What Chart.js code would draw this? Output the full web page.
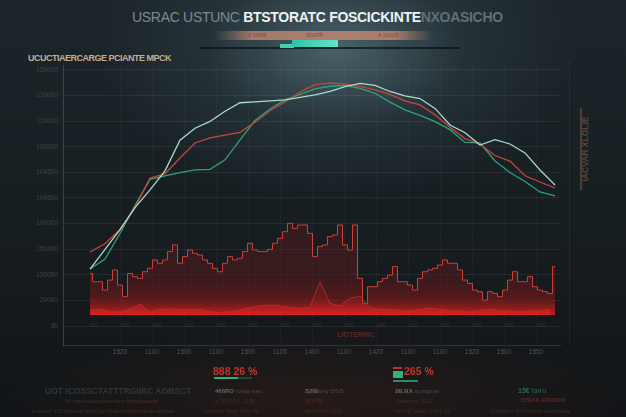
<!DOCTYPE html>
<html><head><meta charset="utf-8">
<script src="https://cdn.jsdelivr.net/npm/chart.js@4"></script>
<style>
html,body{margin:0;padding:0;width:626px;height:417px;overflow:hidden;}
body{position:relative;font-family:"Liberation Sans","DejaVu Sans",Arial,sans-serif;
background:
 radial-gradient(ellipse 240px 150px at 335px 50px, rgba(110,148,158,0.55), rgba(62,88,98,0.26) 55%, rgba(0,0,0,0) 100%),
 radial-gradient(ellipse 320px 70px at 320px 400px, rgba(80,38,28,0.32), rgba(0,0,0,0) 100%),
 linear-gradient(180deg,#1c2529 0%,#182024 40%,#15191c 75%,#111416 100%);}
.a{position:absolute;white-space:nowrap;}
#wrap{position:absolute;left:0;top:0;width:626px;height:417px;}
</style></head><body>
<div class="a" style="left:132px;top:9px;font-size:14px;font-weight:bold;letter-spacing:-0.3px;">
<span style="color:#7b8b92;font-weight:normal">USRAC USTUNC </span><span style="color:#eef3f4">BTSTORATC FOSCICKINTE</span><span style="color:#5f7077">NXOASICHO</span></div>
<div class="a" style="left:215px;top:31px;width:218px;height:9px;background:linear-gradient(90deg,rgba(200,130,110,0),rgba(205,140,118,0.75) 18%,rgba(205,140,118,0.75) 82%,rgba(200,130,110,0));"></div>
<div class="a" style="left:248px;top:32px;font-size:5px;color:#7a4a3a">A 18099</div>
<div class="a" style="left:306px;top:32px;font-size:5px;color:#7a4a3a">SOATP</div>
<div class="a" style="left:378px;top:32px;font-size:5px;color:#7a4a3a">A 16UUS</div>
<div class="a" style="left:200px;top:47px;width:260px;height:1.5px;background:rgba(10,14,16,0.7)"></div>
<div class="a" style="left:280px;top:44px;width:14px;height:3.5px;background:#3fd2b2"></div>
<div class="a" style="left:292px;top:40px;width:46px;height:7px;background:linear-gradient(90deg,#2fc4a4,#62e4c8)"></div>
<div class="a" style="left:28px;top:53px;font-size:9px;font-weight:bold;color:#c2ae95;letter-spacing:-0.5px">UCUCTIAERCARGE PCIANTE MPCK</div>
<div class="a" style="left:569px;top:60px;width:1px;height:285px;background:rgba(255,255,255,0.06)"></div>
<div class="a" style="left:580px;top:108px;width:1.5px;height:82px;background:rgba(90,70,60,0.8)"></div>
<div class="a" style="left:585px;top:149px;font-size:8.5px;font-weight:bold;color:#5e4238;transform:translate(-50%,-50%) rotate(-90deg);">IACVAR XLOLIE</div>
<div class="a" style="left:337px;top:331px;font-size:7px;font-weight:bold;color:#5e2822">LIOTERNIC</div>
<div id="wrap"><canvas id="c"></canvas></div>
<div class="a" style="left:213px;top:365px;font-size:10.5px;font-weight:bold;color:#bf352c">888 26 %</div>
<div class="a" style="left:214px;top:377px;width:38px;height:2px;background:#1c4a3c"></div>
<div class="a" style="left:214px;top:377px;width:24px;height:2px;background:#2bb07f"></div>
<div class="a" style="left:393px;top:367px;width:9px;height:2px;background:#b8332b"></div>
<div class="a" style="left:393px;top:371px;width:10px;height:7px;background:#34b07a"></div>
<div class="a" style="left:404px;top:365px;font-size:10.5px;font-weight:bold;color:#bf352c">265 %</div>
<div class="a" style="left:393px;top:380px;width:25px;height:1.5px;background:#2a8a66"></div>
<div class="a" style="left:45px;top:386px;font-size:8.5px;font-weight:bold;color:#2e383c">UOT ICOSSCTATTTRGIIRC AOBSCT</div>
<div class="a" style="left:215px;top:388px;font-size:6px;color:#4a4a48"><b style="color:#6a6664">466RO</b> /ctrap eec</div>
<div class="a" style="left:305px;top:388px;font-size:6px;color:#4a4a48"><b style="color:#6a6664">S2IB</b>arry 5/5/5</div>
<div class="a" style="left:395px;top:388px;font-size:6px;color:#4a4a48"><b style="color:#6a6664">2B.BX</b> acrognoe</div>
<div class="a" style="left:518px;top:387px;font-size:7px;color:#2a6a4e"><b>15€</b> tarru</div>
<div class="a" style="left:65px;top:398px;font-size:5.5px;color:#4a2c26">Ior there eecoopnenvarg fronpfacaara*</div>
<div class="a" style="left:215px;top:398px;font-size:5.5px;color:#4a2c26">a 3007 06: 2296</div>
<div class="a" style="left:305px;top:398px;font-size:5.5px;color:#4a2c26">303 IBI</div>
<div class="a" style="left:395px;top:398px;font-size:5.5px;color:#4a2c26">cocitenrpr 2423</div>
<div class="a" style="left:521px;top:397px;font-size:6px;font-weight:bold;color:#5a2c26">OSIAK ERIOOD</div>
<div class="a" style="left:32px;top:408px;font-size:5.5px;color:#3e2e28">Leatrem 100 Dreneoi frenCtre dcabesrulsCoraeoe aonoea</div>
<div class="a" style="left:205px;top:408px;font-size:5.5px;color:#3e2e28">Inentoy: 6ees .Ree 80</div>
<div class="a" style="left:305px;top:408px;font-size:5.5px;color:#3e2e28">asd dtutrr / Ir/b</div>
<div class="a" style="left:395px;top:408px;font-size:5.5px;color:#3e2e28">Hed @ laaee 1 426 16</div>
<div class="a" style="left:490px;top:408px;font-size:5.5px;color:#3e2e28">Cossgtert oDsOstaon aoDsrseas</div>
<script>
// ---- data ----
const xTickLabels = ['1520','1100','1500','1100','1500','1105','1400','1100','1420','1100','1100','1520','1500','1550'];
const innerTickLabels = ['130','130','140','110','150','130','130','130','130','140','110','100','130','130','130'];
const yTickValues = [0,20,40,60,80,100,120,140,160,180,200];
const yTickLabels = ['30','20000','150050','150400','100000','104500','104500','100000','110000','130000','150000'];
// line series (one value per 3 sample steps)
const paleSeries = [44.5,59.9,75.3,92.5,106.3,121.2,145.2,154.5,159.8,167.8,174.4,175.1,175.9,176.6,178.6,180.6,183.3,187.0,189.6,187.9,183.2,179.8,177.7,170.0,157.0,151.0,141.4,145.6,142.2,135.2,121.9,110.2];
const greenSeries = [44.5,52.3,72.3,94.1,114.5,117.2,119.8,122.0,122.4,129.8,145.4,160.5,169.5,176.6,180.9,185.2,187.3,188.0,185.7,181.8,174.9,168.8,164.5,159.7,153.4,143.4,143.0,128.9,119.9,112.9,104.7,101.6];
const redSeries = [57.8,64.2,75.4,92.5,115.6,118.9,131.3,143.0,147.0,149.1,151.3,159.2,168.2,175.0,182.8,188.6,189.7,189.2,187.2,184.4,181.0,175.9,172.7,165.1,155.2,146.4,142.0,133.2,128.8,117.4,112.5,107.8];
// volume-like red area (one value per sample step)
const areaSeries = [41.1,34.6,34.6,28.1,35.9,43.8,32.0,22.9,41.1,38.5,37.2,42.4,45.1,51.6,49.0,51.6,58.1,63.3,49.0,54.2,59.4,56.8,55.5,51.6,49.0,45.1,42.4,49.0,54.2,51.6,52.9,58.1,64.6,59.4,58.1,58.1,59.9,64.6,68.5,73.7,80.2,76.3,78.9,78.9,72.4,54.2,62.0,63.3,69.8,71.1,78.9,63.3,59.4,78.9,37.2,17.7,30.7,30.7,34.6,37.2,39.8,46.4,34.6,34.6,32.0,28.1,37.2,42.4,43.8,45.1,47.7,51.6,49.0,49.0,43.8,35.9,33.3,28.1,26.8,20.3,26.8,25.5,22.9,28.1,35.9,42.4,34.6,34.6,38.5,30.7,28.1,26.8,25.5,46.4];
// lower band (one value per 2 sample steps)
const lowSeries = [12.5,13.3,11.2,11.2,13.0,16.9,11.2,13.0,13.3,13.0,13.0,13.0,11.2,10.4,11.2,12.5,14.3,15.9,16.4,15.6,14.6,13.8,14.6,34.6,17.7,15.6,21.6,23.4,14.0,13.0,13.0,12.0,12.0,13.0,14.0,13.0,12.0,12.0,11.0,12.0,13.0,12.0,12.0,11.0,12.0,12.0,13.0];
const areaBase = 8.6;

// ---- layout constants ----
const X_MIN = -5.4, X_MAX = 94;
const Y_MIN = -14.84, Y_MAX = 203.9;

const toPts = (arr, step) => arr.map((v,i)=>({x:i*step, y:v}));

function areaGrad(ctx){
  const ch = ctx.chart; const ys = ch.scales.y; if(!ys || !ch.chartArea) return 'rgba(120,25,25,0.4)';
  const g = ch.ctx.createLinearGradient(0, ys.getPixelForValue(80), 0, ys.getPixelForValue(areaBase));
  g.addColorStop(0,'rgba(100,28,30,0.35)');
  g.addColorStop(0.6,'rgba(110,26,28,0.42)');
  g.addColorStop(0.82,'rgba(140,26,26,0.55)');
  g.addColorStop(1,'rgba(215,32,32,0.9)');
  return g;
}
function lowGrad(ctx){
  const ch = ctx.chart; const ys = ch.scales.y; if(!ys || !ch.chartArea) return 'rgba(200,30,30,0.5)';
  const g = ch.ctx.createLinearGradient(0, ys.getPixelForValue(20), 0, ys.getPixelForValue(areaBase));
  g.addColorStop(0,'rgba(180,30,30,0.25)');
  g.addColorStop(1,'rgba(225,35,35,0.8)');
  return g;
}

const innerPlugin = {
  id:'inner',
  afterDatasetsDraw(chart){
    const c = chart.ctx, xs = chart.scales.x, ys = chart.scales.y;
    c.save(); c.font = '5px "Liberation Sans"'; c.fillStyle = 'rgba(120,70,60,0.5)';
    c.textAlign = 'center'; c.textBaseline = 'middle';
    const y = ys.getPixelForValue(0);
    innerTickLabels.forEach((t,k)=>c.fillText(t, xs.getPixelForValue(0.6 + 6.4*k), y));
    c.restore();
  }
};

new Chart(document.getElementById('c'), {
  type:'line',
  data:{datasets:[
    {data:toPts(paleSeries,3), borderColor:'#a6dccd', borderWidth:1.3, pointRadius:0, tension:0, order:0},
    {data:toPts(redSeries,3), borderColor:'#c9463c', borderWidth:1.3, pointRadius:0, tension:0, order:1},
    {data:toPts(greenSeries,3), borderColor:'#2fa27b', borderWidth:1.3, pointRadius:0, tension:0, order:2},
    {data:toPts(lowSeries,2), borderColor:'rgba(200,50,40,0.7)', borderWidth:1, pointRadius:0, tension:0, fill:{value:areaBase}, backgroundColor:lowGrad, order:3},
    {data:toPts(areaSeries,1), borderColor:'#cf3f35', borderWidth:1, pointRadius:0, stepped:'middle', fill:{value:areaBase}, backgroundColor:areaGrad, order:4}
  ]},
  options:{
    responsive:true, maintainAspectRatio:false, animation:false,
    layout:{padding:{left:0,right:66,top:65,bottom:52}},
    plugins:{legend:{display:false}, tooltip:{enabled:false}},
    scales:{
      x:{type:'linear', min:X_MIN, max:X_MAX,
        afterBuildTicks:(s)=>{ s.ticks = xTickLabels.map((_,k)=>({value:6+6.4*k})); },
        afterFit:(s)=>{ s.height = 20; },
        ticks:{callback:(v,i)=>xTickLabels[i], color:'#4e5457', font:{size:6.5}, padding:3, maxRotation:0, autoSkip:false},
        grid:{color:'rgba(255,255,255,0.03)', drawTicks:false},
        border:{color:'rgba(255,255,255,0.12)'}
      },
      y:{type:'linear', min:Y_MIN, max:Y_MAX,
        afterBuildTicks:(s)=>{ s.ticks = yTickValues.map(v=>({value:v})); },
        afterFit:(s)=>{ s.width = 63; },
        ticks:{callback:(v,i)=>yTickLabels[i], color:'#3f4548', font:{size:6.5}, padding:5},
        grid:{color:'rgba(255,255,255,0.065)', drawTicks:false},
        border:{color:'rgba(200,210,215,0.2)'}
      }
    }
  },
  plugins:[innerPlugin]
});
</script>
</body></html>
